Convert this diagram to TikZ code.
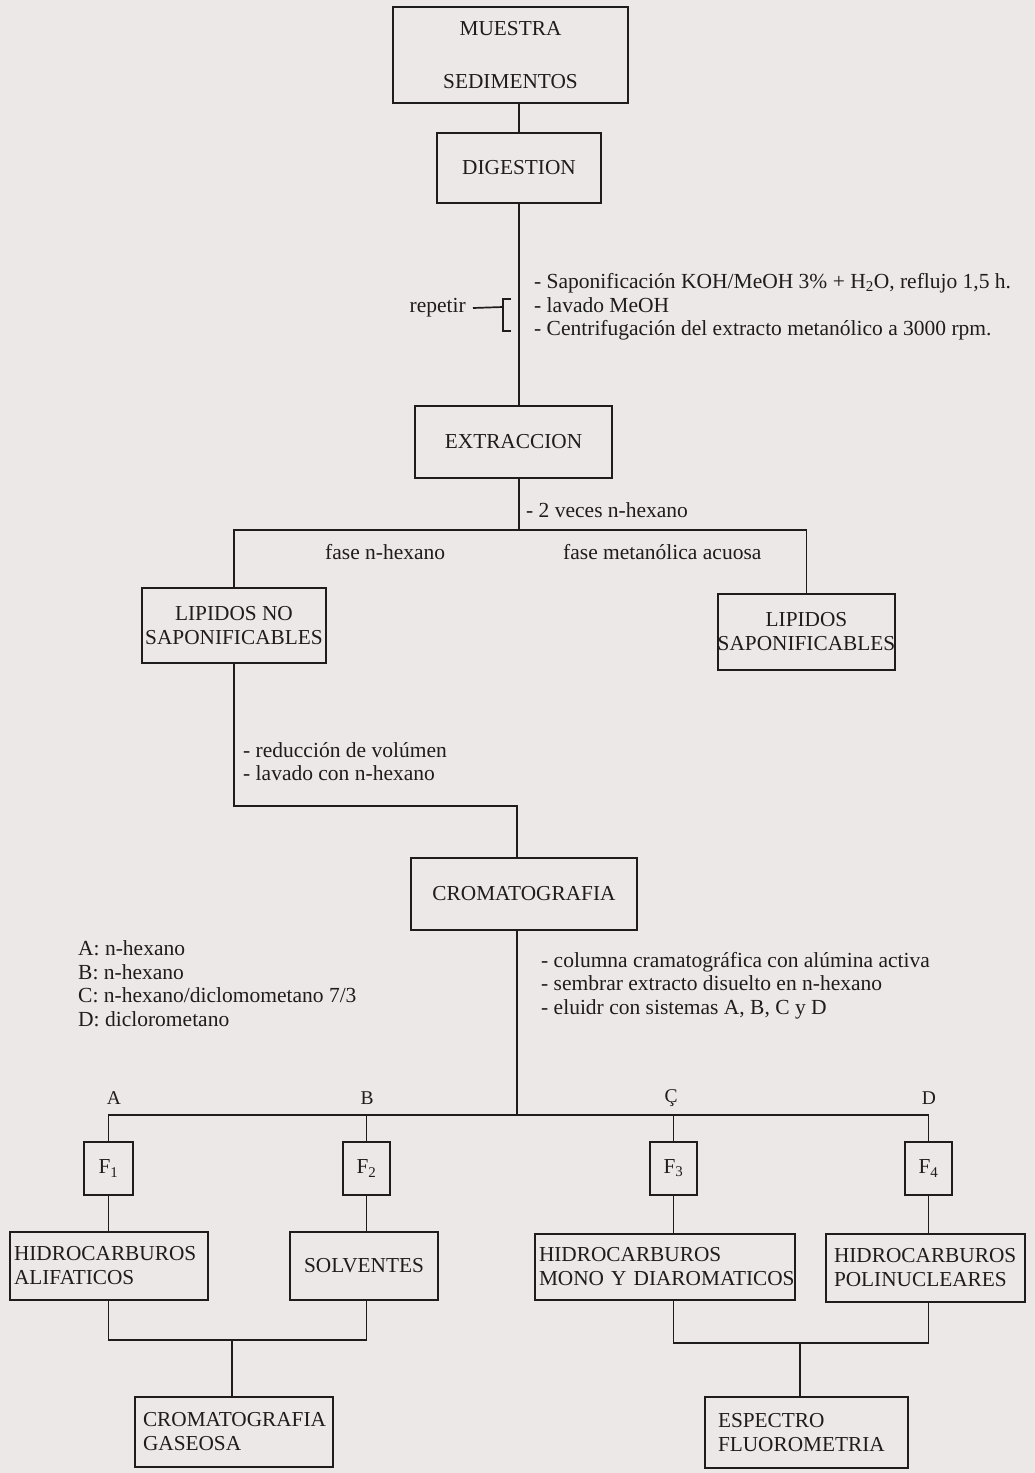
\documentclass[tikz,border=0pt]{standalone}
\usepackage{fontspec}
\setmainfont{Liberation Serif}
\usetikzlibrary{calc}
\definecolor{paper}{RGB}{236,232,231}
\definecolor{ink}{RGB}{30,28,28}
\newcommand\mycapfont{\fontsize{21.3}{24}\selectfont}
\newcommand\mybodyfont{\fontsize{21.5}{23.5}\selectfont}
\tikzset{
  box/.style={draw=ink, line width=2.3pt, inner sep=0pt, font=\mycapfont, text=ink, align=center},
  lbox/.style={draw=ink, line width=2.3pt, inner ysep=0pt, font=\mycapfont, text=ink, align=left},
  conn/.style={draw=ink, line width=1.7pt},
  lbl/.style={font=\mybodyfont, text=ink, inner sep=0pt, align=left},
  letter/.style={font=\fontsize{19.5}{22}\selectfont, text=ink, inner sep=0pt},
}
\begin{document}
\begin{tikzpicture}[x=1pt,y=-1pt]
\fill[paper] (0,0) rectangle (1035,1473);
\useasboundingbox (0,0) rectangle (1035,1473);

% main boxes
\node[box, minimum width=235, minimum height=96] (muestra) at (510.5,55) {MUESTRA\\[29pt]SEDIMENTOS};
\node[box, minimum width=164, minimum height=70] (dig) at (519,168) {DIGESTION};
\node[box, minimum width=197, minimum height=72] (ext) at (513.5,442) {EXTRACCION};
\node[box, minimum width=184, minimum height=75] (lipno) at (234,625.5) {LIPIDOS NO\\SAPONIFICABLES};
\node[box, minimum width=177, minimum height=76] (lipsi) at (806.5,632) {LIPIDOS\\SAPONIFICABLES};
\node[box, minimum width=226, minimum height=72] (crom) at (524,894) {CROMATOGRAFIA};

% fraction boxes
\node[box, minimum width=49, minimum height=53] (f1) at (108.5,1168.5) {F\textsubscript{1}};
\node[box, minimum width=47, minimum height=53] (f2) at (366.5,1168.5) {F\textsubscript{2}};
\node[box, minimum width=47, minimum height=53] (f3) at (673.5,1168.5) {F\textsubscript{3}};
\node[box, minimum width=47, minimum height=53] (f4) at (928.5,1168.5) {F\textsubscript{4}};

% result boxes
\node[lbox, inner xsep=4pt, text width=190pt, minimum height=68] (r1) at (109,1266) {\mbox{HIDROCARBUROS}\\\mbox{ALIFATICOS}};
\node[box, minimum width=148, minimum height=68] (r2) at (364,1266) {SOLVENTES};
\node[lbox, inner xsep=4pt, text width=252pt, minimum height=66] (r3) at (665,1267) {\mbox{HIDROCARBUROS}\\\mbox{MONO Y DIAROMATICOS}};
\node[lbox, inner xsep=8pt, text width=183pt, minimum height=68] (r4) at (925.5,1268) {\mbox{HIDROCARBUROS}\\\mbox{POLINUCLEARES}};
\node[lbox, inner xsep=8pt, text width=182pt, minimum height=70] (g1) at (234,1432) {\mbox{CROMATOGRAFIA}\\\mbox{GASEOSA}};
\node[lbox, inner xsep=13pt, text width=177pt, minimum height=71] (g2) at (806.5,1432.5) {\mbox{ESPECTRO}\\\mbox{FLUOROMETRIA}};

% labels
\node[lbl, anchor=west] (b1) at (534,307) {- Saponificación KOH/MeOH 3\% + H\textsubscript{2}O, reflujo 1,5 h.\\- lavado MeOH\\- Centrifugación del extracto metanólico a 3000 rpm.};
\node[lbl, anchor=east] (rep) at (466,308) {repetir};
\node[lbl, anchor=west] (hex2) at (526,510) {- 2 veces n-hexano};
\node[lbl, anchor=west] (fhex) at (325,552) {fase n-hexano};
\node[lbl, anchor=west] (fmet) at (563,552) {fase metanólica acuosa};
\node[lbl, anchor=west] (red) at (243,761.5) {- reducción de volúmen\\- lavado con n-hexano};
\node[lbl, anchor=west] (leg) at (78,983.5) {A: n-hexano\\B: n-hexano\\C: n-hexano/diclomometano 7/3\\D: diclorometano};
\node[lbl, anchor=west] (b2) at (541,985.5) {- columna cramatográfica con alúmina activa\\- sembrar extracto disuelto en n-hexano\\- eluidr con sistemas A, B, C y D};
\node[letter] (la) at (114,1098) {A};
\node[letter] (lb) at (367,1098) {B};
\node[letter] (lc) at (671,1098) {Ç};
\node[letter] (ld) at (929,1098) {D};

% connectors
\coordinate (sp) at (519,530);
\coordinate (bt) at (503,299);
\coordinate (bb) at (503,331);
\coordinate (bm) at (503,307);
\coordinate (cj) at (517,806);
\coordinate (fj) at (517,1115);
\coordinate (gj) at (232,1340);
\coordinate (hj) at (800,1343);

\draw[conn] (dig.north |- muestra.south) -- (dig.north);
\draw[conn] (dig.south) -- (dig.south |- ext.north);
\draw[conn] ([xshift=8pt]bt) -- (bt) -- (bb) -- ([xshift=8pt]bb);
\draw[conn] ([xshift=7pt]rep.east) -- (bm);
\draw[conn] (dig.south |- ext.south) -- (sp);
\draw[conn] (lipno.north) |- (sp) -| (lipsi.north);
\draw[conn] (lipno.south) |- (cj) -- (cj |- crom.north);
\draw[conn] (cj |- crom.south) -- (fj);
\draw[conn] (f1.north) |- (fj) -| (f4.north);
\draw[conn] (f2.north) -- (f2.north |- fj);
\draw[conn] (f3.north) -- (f3.north |- fj);
\draw[conn] (f1.south) -- (f1.south |- r1.north);
\draw[conn] (f2.south) -- (f2.south |- r2.north);
\draw[conn] (f3.south) -- (f3.south |- r3.north);
\draw[conn] (f4.south) -- (f4.south |- r4.north);
\draw[conn] (f1 |- r1.south) |- (gj) -| (f2 |- r2.south);
\draw[conn] (gj) -- (gj |- g1.north);
\draw[conn] (f3 |- r3.south) |- (hj) -| (f4 |- r4.south);
\draw[conn] (hj) -- (hj |- g2.north);
\end{tikzpicture}
\end{document}
